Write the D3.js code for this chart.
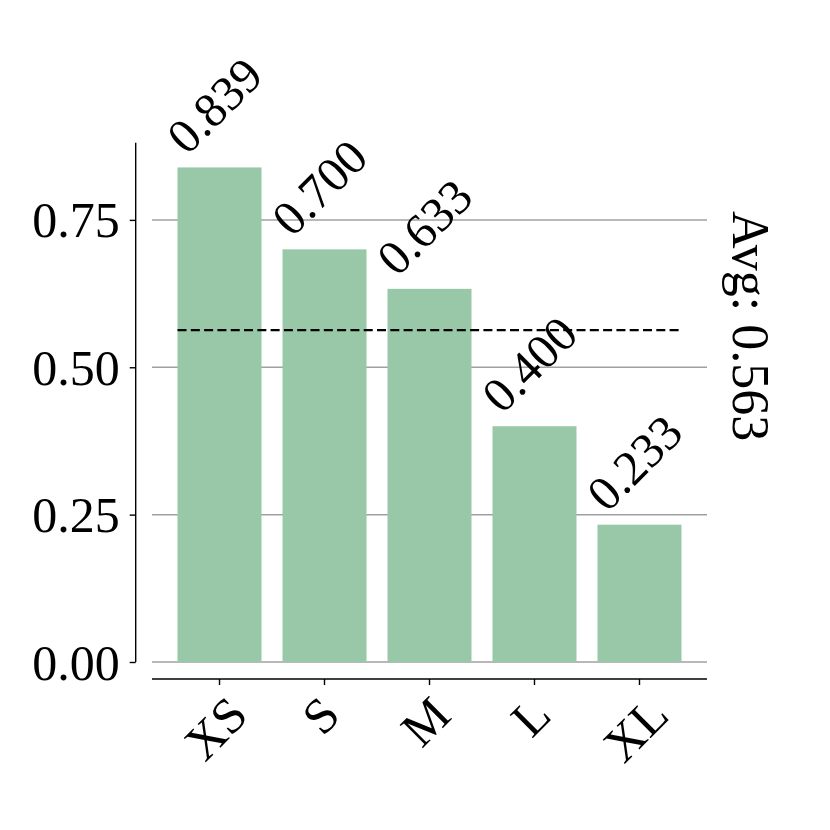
<!DOCTYPE html>
<html>
<head>
<meta charset="utf-8">
<script src="https://cdn.jsdelivr.net/npm/d3@7"></script>
<style>
  html, body { margin: 0; padding: 0; background: #fff; }
  svg text { font-family: "Liberation Serif", "Times New Roman", serif; fill: #000; }
</style>
</head>
<body>
<svg id="chart" width="830" height="830"></svg>
<script>
const categories = ["XS", "S", "M", "L", "XL"];
const values = [0.839, 0.700, 0.633, 0.400, 0.233];
const yTicks = [0, 0.25, 0.50, 0.75];
const yTickLabels = ["0.00", "0.25", "0.50", "0.75"];
const avgValue = 0.563;
const avgLabel = "Avg: 0.563";

const svg = d3.select("#chart");
const plot = { left: 152, right: 707, top: 142.7, bottom: 662 };
const barColor = "#98c8a8";
const gridColor = "#a0a0a0";
const fs = 50;

const x = d3.scaleBand().domain(categories)
  .range([plot.left, plot.right]).paddingInner(0.2).paddingOuter(0.243);
const yMax = d3.max(values) * 1.05;
const y = d3.scaleLinear().domain([0, yMax]).range([plot.bottom, plot.top]);

// gridlines
svg.append("g").selectAll("line").data(yTicks).join("line")
  .attr("x1", plot.left).attr("x2", plot.right)
  .attr("y1", d => y(d)).attr("y2", d => y(d))
  .attr("stroke", gridColor).attr("stroke-width", 1.5);

// bars
svg.append("g").selectAll("rect").data(values).join("rect")
  .attr("x", (d, i) => x(categories[i]))
  .attr("width", x.bandwidth())
  .attr("y", d => y(d))
  .attr("height", d => y(0) - y(d))
  .attr("fill", barColor);

// average dashed line
const firstX = x(categories[0]);
const lastX = x(categories[categories.length - 1]) + x.bandwidth();
svg.append("line")
  .attr("x1", firstX).attr("x2", lastX)
  .attr("y1", y(avgValue)).attr("y2", y(avgValue))
  .attr("stroke", "#000").attr("stroke-width", 2.3)
  .attr("stroke-dasharray", "9,4.3");

// left axis (offset outward)
const leftX = plot.left - 16.3;
const yAxis = d3.axisLeft(y).tickValues(yTicks).tickSize(6).tickPadding(10)
  .tickFormat((d, i) => yTickLabels[i]);
const gy = svg.append("g").attr("transform", `translate(${leftX},0)`).call(yAxis);
gy.select(".domain").remove();
gy.selectAll(".tick line").attr("stroke", "#000").attr("stroke-width", 1.4);
gy.selectAll(".tick text").attr("font-size", fs).attr("dy", "0.34em");
gy.append("line").attr("x1", 0).attr("x2", 0)
  .attr("y1", y(yMax)).attr("y2", y(0))
  .attr("stroke", "#000").attr("stroke-width", 1.4);

// bottom axis (offset outward)
const bottomY = plot.bottom + 17;
svg.append("line").attr("x1", plot.left).attr("x2", plot.right)
  .attr("y1", bottomY).attr("y2", bottomY)
  .attr("stroke", "#000").attr("stroke-width", 1.4);
const xt = svg.append("g").selectAll("g").data(categories).join("g");
xt.append("line")
  .attr("x1", d => x(d) + x.bandwidth() / 2).attr("x2", d => x(d) + x.bandwidth() / 2)
  .attr("y1", bottomY).attr("y2", bottomY + 6)
  .attr("stroke", "#000").attr("stroke-width", 1.4);
xt.append("text")
  .attr("font-size", fs)
  .attr("text-anchor", "middle")
  .attr("dy", "0.34em")
  .text(d => d)
  .each(function(d) {
    const w = this.getComputedTextLength();
    const ext = (w + 0.66 * fs) * Math.SQRT1_2;
    const cx = x(d) + x.bandwidth() / 2 - 4;
    const cy = bottomY + 15 + ext / 2;
    d3.select(this).attr("transform", `translate(${cx},${cy}) rotate(-45)`);
  });

// value labels
svg.append("g").selectAll("text").data(values).join("text")
  .attr("font-size", 49)
  .attr("text-anchor", "middle")
  .attr("dy", "0.34em")
  .attr("transform", (d, i) => {
    const cx = x(categories[i]) + x.bandwidth() / 2 - 5;
    const cy = y(d) - 62;
    return `translate(${cx},${cy}) rotate(-45)`;
  })
  .text(d => d3.format(".3f")(d));

// average label (rotated, reading top to bottom)
svg.append("text")
  .attr("font-size", 52)
  .attr("text-anchor", "middle")
  .attr("transform", `translate(${plot.right + 26},${y(avgValue) - 4}) rotate(90)`)
  .text(avgLabel);
</script>
</body>
</html>
